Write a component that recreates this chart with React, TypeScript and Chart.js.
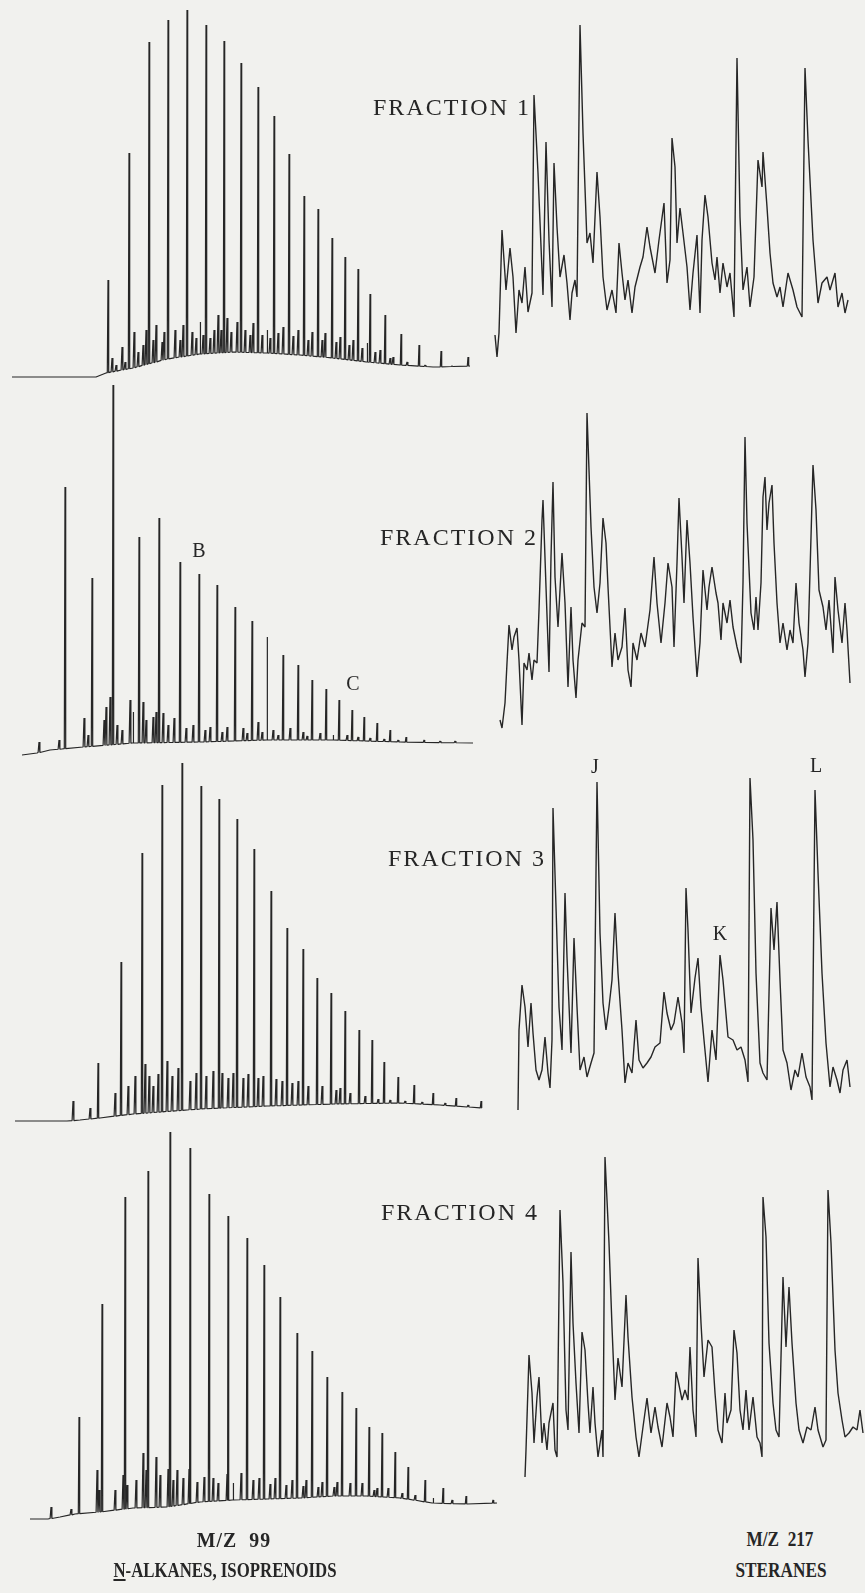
import React, { useEffect, useRef } from "react";
import { Chart, registerables } from "chart.js";

Chart.register(...registerables);

// ---------- M/Z 99 (n-alkanes) : retention scan vs abundance ----------
// Fraction 1
const F1L_HUMP_X = [12, 96, 106, 133, 167, 200, 233, 267, 300, 333, 367, 400, 433, 470];
const F1L_HUMP_Y = [13, 13, 17, 22, 31, 36, 38, 37, 35, 32, 28, 25, 23, 24];
const F1L_PEAK_X = [108, 129, 149, 168, 187, 206, 224, 241, 258, 274, 289, 304, 318, 332, 345, 358, 370, 385, 401, 419, 441, 468];
const F1L_PEAK_Y = [110, 237, 348, 370, 380, 365, 349, 327, 303, 274, 236, 194, 181, 152, 133, 121, 96, 75, 56, 45, 39, 33];
const F1L_MINOR_X = [112, 116, 122, 125, 134, 138, 143, 146, 153, 156, 162, 164, 175, 180, 183, 192, 196, 200, 203, 210, 214, 218, 221, 227, 231, 237, 245, 250, 253, 262, 267, 270, 278, 283, 293, 298, 308, 312, 322, 325, 336, 340, 349, 353, 362, 367, 375, 380, 390, 393, 407, 425, 452];
const F1L_MINOR_Y = [32, 25, 43, 28, 58, 38, 45, 60, 50, 65, 48, 58, 60, 50, 65, 58, 52, 68, 55, 52, 60, 75, 60, 72, 58, 68, 60, 55, 67, 55, 60, 52, 57, 63, 54, 60, 50, 58, 50, 57, 48, 53, 45, 50, 42, 47, 38, 40, 32, 33, 28, 25, 24];

// Fraction 2
const F2L_HUMP_X = [22, 37, 50, 62, 83, 133, 200, 267, 333, 400, 473];
const F2L_HUMP_Y = [10, 12, 15, 16, 18, 22, 23, 25, 25, 23, 22];
const F2L_PEAK_X = [65, 92, 113, 139, 159, 180, 199, 217, 235, 252, 267, 283, 298, 312, 326, 339, 352, 364, 377, 390, 406, 424];
const F2L_PEAK_Y = [278, 187, 380, 228, 247, 203, 191, 180, 158, 144, 128, 110, 100, 85, 76, 65, 55, 48, 42, 35, 28, 25];
const F2L_MINOR_X = [39, 59, 84, 88, 104, 106, 110, 117, 122, 130, 133, 143, 146, 153, 156, 163, 168, 174, 186, 193, 205, 210, 222, 227, 243, 247, 258, 262, 273, 278, 290, 303, 307, 320, 333, 347, 358, 370, 384, 398, 440, 455];
const F2L_MINOR_Y = [23, 25, 47, 30, 45, 58, 68, 40, 35, 65, 53, 63, 45, 48, 53, 52, 40, 47, 37, 40, 35, 38, 33, 38, 37, 32, 43, 33, 35, 30, 37, 33, 29, 32, 30, 30, 28, 27, 26, 25, 24, 24];

// Fraction 3
const F3L_HUMP_X = [15, 67, 80, 100, 133, 200, 267, 333, 400, 440, 482];
const F3L_HUMP_Y = [24, 24, 25, 27, 31, 36, 39, 41, 42, 40, 37];
const F3L_PEAK_X = [98, 121, 142, 162, 182, 201, 219, 237, 254, 271, 287, 303, 317, 331, 345, 359, 372, 384, 398, 414, 433, 456, 481];
const F3L_PEAK_Y = [82, 183, 292, 360, 382, 359, 346, 326, 296, 254, 217, 196, 167, 152, 134, 115, 105, 83, 68, 60, 52, 47, 44];
const F3L_MINOR_X = [73, 90, 115, 128, 135, 145, 149, 153, 158, 167, 172, 178, 190, 196, 206, 213, 222, 228, 233, 243, 248, 258, 263, 276, 282, 292, 298, 308, 322, 336, 340, 350, 365, 378, 390, 405, 422, 445, 468];
const F3L_MINOR_Y = [44, 37, 52, 59, 69, 81, 69, 59, 71, 84, 69, 77, 64, 72, 69, 74, 72, 67, 72, 67, 71, 67, 69, 66, 64, 62, 64, 59, 59, 55, 57, 52, 49, 46, 45, 44, 43, 42, 40];

// Fraction 4
const F4L_HUMP_X = [30, 48, 60, 75, 100, 133, 167, 200, 233, 267, 300, 333, 367, 400, 433, 467, 497];
const F4L_HUMP_Y = [11, 11, 13, 16, 18, 22, 23, 28, 30, 31, 32, 34, 34, 32, 27, 26, 27];
const F4L_PEAK_X = [79, 102, 125, 148, 170, 190, 209, 228, 247, 264, 280, 297, 312, 327, 342, 356, 369, 382, 395, 408, 425, 443, 466, 493];
const F4L_PEAK_Y = [113, 226, 333, 359, 398, 382, 336, 314, 292, 265, 233, 197, 179, 153, 138, 122, 103, 97, 78, 63, 50, 42, 34, 30];
const F4L_MINOR_X = [51, 71, 97, 99, 115, 123, 127, 136, 143, 146, 156, 160, 168, 173, 177, 183, 189, 197, 204, 213, 218, 227, 233, 241, 253, 259, 270, 275, 286, 292, 303, 306, 318, 322, 334, 337, 350, 362, 374, 377, 388, 402, 415, 433, 452];
const F4L_MINOR_Y = [23, 21, 60, 40, 40, 55, 45, 50, 77, 60, 73, 55, 61, 50, 60, 52, 61, 48, 53, 52, 47, 56, 47, 57, 50, 52, 46, 52, 45, 50, 44, 50, 43, 48, 43, 48, 47, 47, 40, 42, 42, 37, 35, 32, 30];

// ---------- M/Z 217 (steranes) : scan vs abundance ----------
const F1R_X = [495, 497, 499, 502, 506, 510, 513, 516, 519, 522, 525, 528, 532, 534, 538, 543, 546, 549, 552, 554, 557, 560, 564, 567, 570, 572, 575, 577, 580, 583, 587, 590, 593, 597, 600, 603, 607, 612, 616, 619, 622, 625, 628, 632, 635, 640, 643, 647, 650, 655, 659, 664, 667, 670, 672, 675, 677, 680, 683, 687, 690, 693, 697, 700, 702, 705, 708, 712, 715, 717, 720, 723, 727, 730, 734, 737, 740, 743, 747, 750, 754, 758, 762, 763, 767, 770, 773, 777, 780, 783, 788, 793, 797, 802, 805, 808, 813, 818, 822, 827, 830, 835, 838, 842, 845, 848];
const F1R_Y = [35, 13, 37, 140, 80, 122, 93, 37, 80, 67, 103, 58, 77, 275, 197, 75, 228, 130, 63, 207, 143, 93, 115, 87, 50, 77, 90, 73, 345, 237, 127, 137, 107, 198, 153, 93, 60, 80, 57, 127, 97, 70, 90, 57, 83, 103, 113, 143, 123, 97, 130, 167, 87, 110, 232, 203, 127, 162, 137, 103, 60, 97, 135, 57, 130, 175, 153, 107, 90, 113, 77, 107, 83, 97, 53, 312, 153, 80, 103, 63, 93, 210, 183, 218, 163, 117, 87, 73, 83, 63, 97, 80, 63, 53, 302, 230, 130, 67, 87, 93, 80, 97, 63, 77, 57, 70];

const F2R_X = [500, 502, 505, 507, 509, 512, 514, 517, 519, 522, 524, 527, 529, 532, 534, 537, 539, 542, 543, 546, 549, 551, 553, 555, 558, 562, 565, 568, 571, 573, 576, 578, 582, 585, 587, 591, 594, 597, 600, 603, 606, 608, 612, 615, 618, 622, 625, 628, 631, 633, 637, 641, 645, 650, 654, 657, 661, 665, 668, 672, 674, 677, 679, 682, 684, 687, 690, 693, 697, 700, 703, 707, 709, 712, 716, 718, 721, 723, 727, 730, 733, 737, 741, 743, 745, 747, 751, 754, 756, 758, 761, 763, 765, 767, 769, 772, 774, 777, 780, 783, 787, 790, 793, 796, 799, 803, 805, 808, 811, 813, 816, 819, 823, 826, 829, 833, 835, 838, 842, 845, 847, 850];
const F2R_Y = [25, 17, 42, 82, 120, 95, 108, 117, 85, 20, 82, 75, 92, 65, 85, 82, 135, 225, 245, 158, 73, 188, 263, 168, 118, 192, 142, 58, 138, 85, 47, 85, 122, 118, 332, 218, 158, 132, 162, 227, 202, 158, 78, 112, 85, 98, 137, 75, 58, 102, 85, 112, 98, 135, 188, 142, 102, 142, 182, 158, 98, 182, 247, 188, 142, 225, 182, 128, 68, 102, 175, 135, 158, 178, 152, 142, 105, 142, 122, 145, 118, 98, 82, 162, 308, 222, 132, 115, 148, 115, 162, 248, 268, 215, 242, 260, 202, 142, 102, 122, 95, 115, 102, 162, 122, 95, 68, 102, 208, 280, 235, 155, 138, 115, 145, 92, 168, 135, 102, 142, 115, 62];

const F3R_X = [518, 519, 522, 525, 528, 531, 533, 536, 539, 542, 545, 548, 550, 552, 553, 556, 559, 562, 565, 567, 571, 574, 577, 580, 584, 587, 591, 594, 597, 600, 603, 606, 609, 612, 615, 618, 622, 625, 628, 632, 636, 639, 643, 647, 651, 655, 660, 664, 667, 671, 674, 678, 682, 684, 686, 688, 691, 695, 698, 701, 704, 708, 712, 716, 720, 723, 728, 733, 737, 741, 745, 748, 750, 753, 756, 760, 763, 767, 771, 774, 777, 780, 783, 787, 791, 795, 798, 802, 806, 810, 812, 815, 818, 822, 826, 830, 833, 837, 840, 843, 847, 850];
const F3R_Y = [15, 95, 140, 118, 78, 122, 92, 55, 45, 55, 88, 52, 37, 85, 317, 218, 118, 75, 232, 168, 72, 187, 118, 55, 68, 48, 62, 72, 343, 192, 122, 95, 118, 145, 212, 152, 95, 42, 62, 52, 105, 65, 57, 62, 68, 78, 82, 133, 112, 95, 102, 128, 102, 72, 237, 195, 112, 147, 167, 118, 85, 43, 95, 65, 170, 145, 88, 85, 75, 78, 65, 43, 347, 285, 152, 62, 52, 45, 217, 175, 223, 145, 75, 62, 35, 55, 48, 72, 48, 38, 25, 335, 252, 152, 82, 38, 58, 45, 32, 55, 65, 38];

const F4R_X = [525, 526, 529, 532, 534, 537, 539, 542, 544, 547, 549, 553, 555, 557, 560, 563, 566, 568, 571, 573, 576, 579, 582, 585, 588, 590, 593, 595, 598, 602, 603, 605, 609, 612, 615, 618, 622, 626, 628, 632, 636, 639, 643, 647, 651, 655, 658, 662, 667, 670, 673, 676, 678, 682, 685, 688, 690, 693, 696, 698, 701, 704, 708, 712, 715, 718, 722, 725, 727, 731, 734, 737, 740, 743, 746, 749, 753, 757, 760, 762, 763, 766, 769, 773, 776, 779, 783, 786, 789, 792, 796, 799, 803, 807, 811, 815, 818, 823, 826, 828, 831, 835, 838, 842, 845, 849, 853, 857, 860, 863];
const F4R_Y = [33, 60, 155, 117, 67, 113, 133, 67, 87, 60, 87, 107, 60, 53, 300, 227, 100, 80, 258, 187, 127, 77, 178, 160, 107, 77, 123, 87, 53, 80, 53, 353, 267, 183, 110, 152, 123, 215, 173, 113, 73, 53, 83, 112, 77, 103, 83, 63, 107, 93, 73, 138, 130, 110, 120, 110, 163, 100, 73, 252, 187, 133, 170, 163, 117, 80, 67, 117, 87, 100, 180, 157, 100, 80, 120, 80, 113, 73, 67, 53, 313, 273, 167, 107, 80, 73, 233, 163, 223, 167, 107, 80, 67, 83, 80, 103, 80, 63, 70, 320, 267, 160, 117, 90, 73, 77, 83, 80, 100, 77];

// ---------- text ----------
const FRACTION_LABELS = ["FRACTION 1", "FRACTION 2", "FRACTION 3", "FRACTION 4"];
const PEAK_LABELS = ["B", "C", "J", "K", "L"];
const CAPTION_LEFT = ["M/Z  99", "-ALKANES, ISOPRENOIDS"];
const CAPTION_RIGHT = ["M/Z  217", "STERANES"];

type Pt = { x: number; y: number };

function baseAt(xs: number[], ys: number[], x: number): number {
  if (x <= xs[0]) return ys[0];
  for (let i = 1; i < xs.length; i++) {
    if (x <= xs[i]) {
      const t = (x - xs[i - 1]) / (xs[i] - xs[i - 1]);
      return ys[i - 1] + t * (ys[i] - ys[i - 1]);
    }
  }
  return ys[ys.length - 1];
}

function alkaneTrace(hx: number[], hy: number[], px: number[], py: number[], mx: number[], my: number[]): Pt[] {
  const pts: Pt[] = hx.map((x, i) => ({ x, y: hy[i] }));
  const spike = (x: number, top: number, hw: number) => {
    const b = baseAt(hx, hy, x);
    pts.push({ x: x - hw, y: b }, { x, y: Math.max(top, b) }, { x: x + hw, y: b });
  };
  px.forEach((x, i) => spike(x, py[i], 0.7));
  mx.forEach((x, i) => spike(x, my[i], 0.9));
  pts.sort((a, b) => a.x - b.x);
  return pts;
}

function sterTrace(xs: number[], ys: number[]): Pt[] {
  return xs.map((x, i) => ({ x, y: ys[i] }));
}

type PanelSpec = { left: number; top: number; width: number; height: number; xMin: number; xMax: number; lw: number; points: Pt[] };

const PANELS: PanelSpec[] = [
  { left: 0, top: 0, width: 500, height: 390, xMin: 0, xMax: 500, lw: 1.2, points: alkaneTrace(F1L_HUMP_X, F1L_HUMP_Y, F1L_PEAK_X, F1L_PEAK_Y, F1L_MINOR_X, F1L_MINOR_Y) },
  { left: 0, top: 375, width: 500, height: 390, xMin: 0, xMax: 500, lw: 1.2, points: alkaneTrace(F2L_HUMP_X, F2L_HUMP_Y, F2L_PEAK_X, F2L_PEAK_Y, F2L_MINOR_X, F2L_MINOR_Y) },
  { left: 0, top: 755, width: 500, height: 390, xMin: 0, xMax: 500, lw: 1.2, points: alkaneTrace(F3L_HUMP_X, F3L_HUMP_Y, F3L_PEAK_X, F3L_PEAK_Y, F3L_MINOR_X, F3L_MINOR_Y) },
  { left: 0, top: 1115, width: 500, height: 415, xMin: 0, xMax: 500, lw: 1.2, points: alkaneTrace(F4L_HUMP_X, F4L_HUMP_Y, F4L_PEAK_X, F4L_PEAK_Y, F4L_MINOR_X, F4L_MINOR_Y) },
  { left: 480, top: 0, width: 385, height: 370, xMin: 480, xMax: 865, lw: 1.4, points: sterTrace(F1R_X, F1R_Y) },
  { left: 480, top: 375, width: 385, height: 370, xMin: 480, xMax: 865, lw: 1.4, points: sterTrace(F2R_X, F2R_Y) },
  { left: 480, top: 755, width: 385, height: 370, xMin: 480, xMax: 865, lw: 1.4, points: sterTrace(F3R_X, F3R_Y) },
  { left: 480, top: 1140, width: 385, height: 370, xMin: 480, xMax: 865, lw: 1.4, points: sterTrace(F4R_X, F4R_Y) },
];

const INK = "#262626";
const FONT = '"Liberation Serif", "Times New Roman", Times, serif';

function Trace({ spec }: { spec: PanelSpec }) {
  const ref = useRef<HTMLCanvasElement | null>(null);
  useEffect(() => {
    if (!ref.current) return;
    const chart = new Chart(ref.current, {
      type: "line",
      data: {
        datasets: [
          {
            data: spec.points as any,
            borderColor: INK,
            borderWidth: spec.lw,
            pointRadius: 0,
            tension: 0,
            fill: false,
            borderJoinStyle: "bevel",
            clip: false as any,
          },
        ],
      },
      options: {
        animation: false,
        responsive: false,
        maintainAspectRatio: false,
        events: [],
        layout: { padding: 0 },
        scales: {
          x: { type: "linear", min: spec.xMin, max: spec.xMax, display: false },
          y: { type: "linear", min: 0, max: spec.height, display: false },
        },
        plugins: { legend: { display: false }, tooltip: { enabled: false } },
      },
    });
    return () => chart.destroy();
  }, [spec]);
  return (
    <canvas
      ref={ref}
      width={spec.width}
      height={spec.height}
      style={{ position: "absolute", left: spec.left, top: spec.top, width: spec.width, height: spec.height }}
    />
  );
}

function Label({ text, x, baseline, size, center, bold, spacing, squeeze }: { text: React.ReactNode; x: number; baseline: number; size: number; center?: boolean; bold?: boolean; spacing?: number; squeeze?: number }) {
  const tf: string[] = [];
  if (center) tf.push("translateX(-50%)");
  if (squeeze) tf.push(`scaleX(${squeeze})`);
  return (
    <div
      style={{
        position: "absolute",
        left: x,
        top: baseline - 0.8375 * size,
        fontFamily: FONT,
        fontSize: size,
        lineHeight: 1,
        fontWeight: bold ? "bold" : "normal",
        letterSpacing: spacing ?? 0,
        color: INK,
        whiteSpace: "pre",
        transform: tf.length ? tf.join(" ") : undefined,
      }}
    >
      {text}
    </div>
  );
}

export default function App() {
  const fracPos = [
    [373, 115],
    [380, 545],
    [388, 866],
    [381, 1220],
  ];
  const peakPos = [
    [199, 557],
    [353, 690],
    [595, 773],
    [720, 940],
    [816, 772],
  ];
  return (
    <div style={{ position: "absolute", left: 0, top: 0, width: 865, height: 1593, background: "#f1f1ee", overflow: "hidden" }}>
      {PANELS.map((p, i) => (
        <Trace key={i} spec={p} />
      ))}
      {FRACTION_LABELS.map((t, i) => (
        <Label key={t} text={t} x={fracPos[i][0]} baseline={fracPos[i][1]} size={24} spacing={2} />
      ))}
      {PEAK_LABELS.map((t, i) => (
        <Label key={t} text={t} x={peakPos[i][0]} baseline={peakPos[i][1]} size={20} center />
      ))}
      <Label text={CAPTION_LEFT[0]} x={234} baseline={1547} size={22} bold center spacing={1.2} squeeze={0.9} />
      <Label
        text={
          <span>
            <span style={{ textDecoration: "underline" }}>N</span>
            {CAPTION_LEFT[1]}
          </span>
        }
        x={225}
        baseline={1578}
        size={21}
        bold
        center
        squeeze={0.8}
      />
      <Label text={CAPTION_RIGHT[0]} x={780} baseline={1547} size={21} bold center squeeze={0.82} />
      <Label text={CAPTION_RIGHT[1]} x={781} baseline={1578} size={21} bold center squeeze={0.82} />
    </div>
  );
}
